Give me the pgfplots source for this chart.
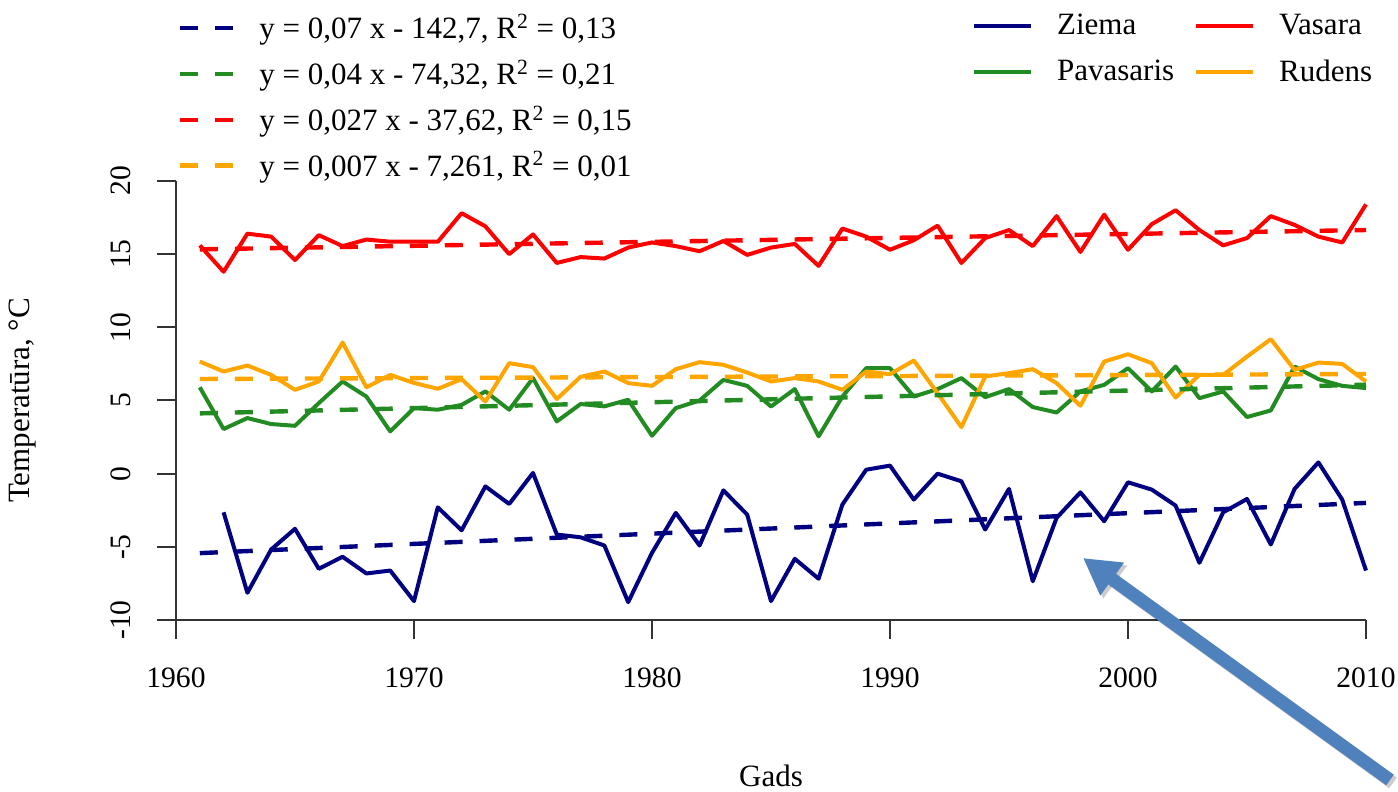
\documentclass[border=0pt]{standalone}
\usepackage{fontspec}
\setmainfont{Liberation Serif}
\usepackage{pgfplots}
\usepackage{pgfplotstable}
\pgfplotsset{compat=1.18}
\usetikzlibrary{arrows.meta}

\definecolor{rnavy}{HTML}{000080}
\definecolor{rgreen}{HTML}{228B22}
\definecolor{rred}{HTML}{FF0000}
\definecolor{rorange}{HTML}{FFA500}
\definecolor{arrowblue}{HTML}{4F81BD}

% seasonal mean temperatures
\pgfplotstableread{
year ziema vasara pavasaris rudens
1961 nan   15.60 5.90 7.66
1962 -2.64 13.80 3.05 6.98
1963 -8.14 16.40 3.80 7.39
1964 -5.18 16.20 3.39 6.75
1965 -3.77 14.60 3.27 5.73
1966 -6.50 16.30 4.82 6.30
1967 -5.68 15.55 6.30 8.96
1968 -6.82 16.00 5.27 5.90
1969 -6.62 15.85 2.89 6.75
1970 -8.71 15.85 4.48 6.20
1971 -2.30 15.85 4.37 5.80
1972 -3.87 17.80 4.70 6.46
1973 -0.87 16.90 5.62 4.93
1974 -2.07 15.00 4.37 7.55
1975 0.05  16.35 6.53 7.28
1976 -4.16 14.40 3.57 5.10
1977 -4.35 14.80 4.76 6.62
1978 -4.91 14.70 4.60 6.98
1979 -8.78 15.45 5.05 6.19
1980 -5.41 15.80 2.59 6.00
1981 -2.68 15.55 4.48 7.14
1982 -4.91 15.20 5.00 7.62
1983 -1.14 15.90 6.41 7.44
1984 -2.80 14.95 6.00 6.91
1985 -8.71 15.45 4.59 6.30
1986 -5.82 15.70 5.78 6.53
1987 -7.18 14.20 2.55 6.30
1988 -2.11 16.75 5.27 5.73
1989 0.27  16.20 7.21 6.98
1990 0.55  15.30 7.21 6.80
1991 -1.77 15.95 5.27 7.73
1992 0.00  16.95 5.78 5.50
1993 -0.52 14.40 6.53 3.18
1994 -3.82 16.10 5.23 6.64
1995 -1.04 16.65 5.78 6.87
1996 -7.35 15.55 4.55 7.14
1997 -3.02 17.60 4.18 6.19
1998 -1.28 15.15 5.62 4.64
1999 -3.25 17.70 6.07 7.66
2000 -0.59 15.30 7.21 8.16
2001 -1.09 17.05 5.62 7.55
2002 -2.18 18.00 7.32 5.20
2003 -6.09 16.65 5.16 6.75
2004 -2.64 15.60 5.62 6.75
2005 -1.73 16.10 3.87 8.00
2006 -4.84 17.60 4.32 9.19
2007 -1.04 17.00 7.32 7.09
2008 0.77  16.20 6.46 7.59
2009 -1.77 15.80 6.00 7.50
2010 -6.62 18.40 5.85 6.30
}\seasons

\pgfplotsset{
  base/.style={
    scale only axis, width=595pt, height=219.5pt,
    at={(0pt,0pt)}, anchor=south west,
    xmin=1960, xmax=2010, ymin=-10, ymax=20,
    clip=false,
  },
  leg/.style={
    legend cell align=left,
    legend style={draw=none, fill=none, inner sep=0pt, outer sep=0pt,
      font=\fontsize{15.5}{18}\selectfont,
      nodes={inner sep=0pt},
      /tikz/every odd column/.append style={column sep=12pt},
      /tikz/every even column/.append style={column sep=10pt}},
  },
}

\begin{document}
\begin{tikzpicture}
\path[use as bounding box] (-88pt,-86pt) rectangle (611pt,310pt);

\begin{axis}[base, leg,
    axis x line*=bottom, axis y line*=left,
    axis line style={-, draw=black!80, line width=1pt},
    tick style={draw=black!80, line width=1pt},
    tick align=outside, major tick length=9.5pt,
    xtick={1960,1970,1980,1990,2000,2010},
    xticklabels={1960,1970,1980,1990,2000,2010},
    ytick={-10,-5,0,5,10,15,20},
    yticklabels={-10,-5,0,5,10,15,20},
    tick label style={font=\fontsize{14.8}{17}\selectfont},
    xticklabel style={anchor=north, inner sep=0pt, yshift=-14pt},
    yticklabel style={rotate=90, anchor=south, inner xsep=0pt, inner ysep=13pt},
    xlabel={Gads}, ylabel={Temperatūra, °C},
    label style={font=\fontsize{15.5}{18}\selectfont},
    xlabel style={at={(axis description cs:0.5,-0.355)}, anchor=center},
    ylabel style={at={(axis description cs:-0.1294,0.5)}, anchor=center},
    legend columns=2,
    legend style={at={(axis description cs:0.669,1.380)}, anchor=north west,
      /tikz/row sep=11pt},
    legend image code/.code={\draw[#1] (0pt,0pt) -- (28.5pt,0pt);},
    every axis plot/.append style={line width=2pt, line join=round},
  ]
  \addplot[rnavy] table[x=year, y=ziema] {\seasons};
  \addlegendentry{Ziema}
  \addplot[rred] table[x=year, y=vasara] {\seasons};
  \addlegendentry{Vasara}
  \addplot[rgreen] table[x=year, y=pavasaris] {\seasons};
  \addlegendentry{Pavasaris}
  \addplot[rorange] table[x=year, y=rudens] {\seasons};
  \addlegendentry{Rudens}
\end{axis}

% linear trends, drawn over the series with their own legend
\begin{axis}[base, leg, hide axis,
    legend style={at={(axis description cs:0.0017,1.380)}, anchor=north west,
      /tikz/row sep=9pt},
    legend image code/.code={\draw[#1] (0pt,0pt) -- (26.5pt,0pt);},
    every axis plot/.append style={line width=2.2pt, dash pattern=on 9pt off 8.5pt},
  ]
  \addplot[rnavy] coordinates {(1961,-5.43) (2010,-2.00)};
  \addlegendentry{y = 0,07 x - 142,7, R\textsuperscript{2} = 0,13}
  \addplot[rgreen] coordinates {(1961,4.12) (2010,6.08)};
  \addlegendentry{y = 0,04 x - 74,32, R\textsuperscript{2} = 0,21}
  \addplot[rred] coordinates {(1961,15.33) (2010,16.65)};
  \addlegendentry{y = 0,027 x - 37,62, R\textsuperscript{2} = 0,15}
  \addplot[rorange] coordinates {(1961,6.47) (2010,6.81)};
  \addlegendentry{y = 0,007 x - 7,261, R\textsuperscript{2} = 0,01}
\end{axis}

\draw[black, opacity=0.2, line width=6.5pt, -{Triangle[length=18pt,width=19pt]}]
  (608.5pt,-81.5pt) -- (455pt,29.5pt);
\draw[arrowblue, line width=6.5pt, -{Triangle[length=18pt,width=19pt]}]
  (607pt,-80pt) -- (453.5pt,31pt);
\end{tikzpicture}
\end{document}
